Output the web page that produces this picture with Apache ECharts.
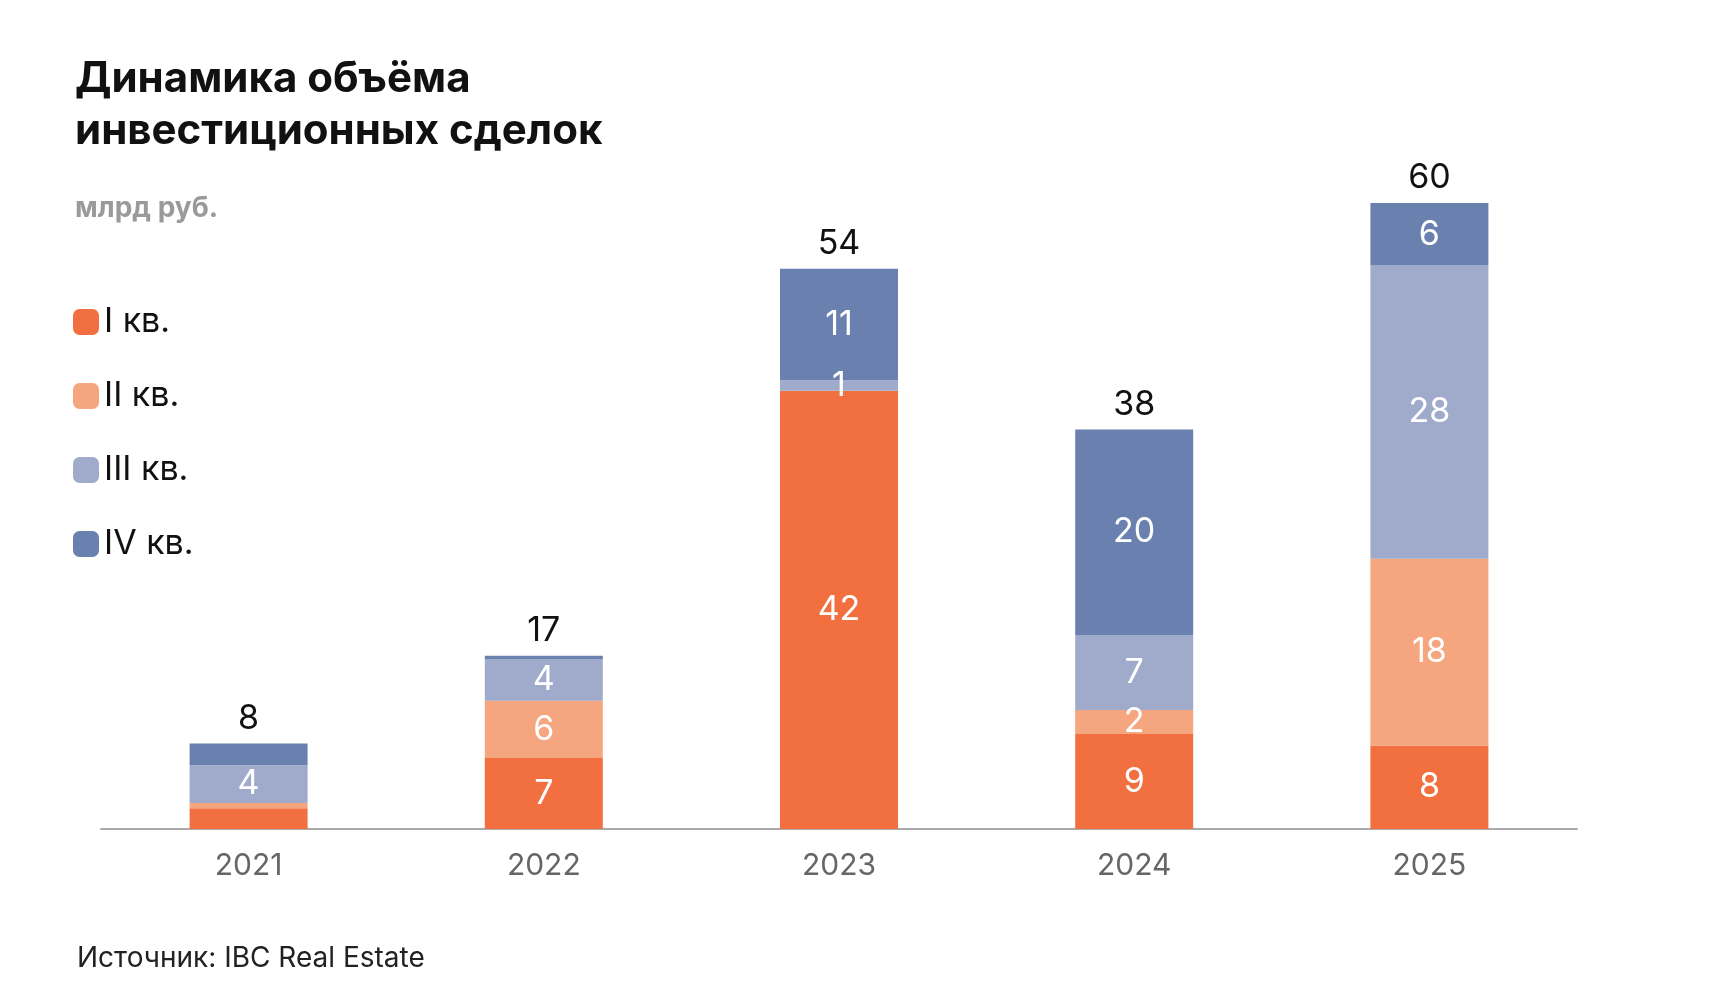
<!DOCTYPE html><html><head><meta charset="utf-8"><script src="https://cdn.jsdelivr.net/npm/echarts@6/dist/echarts.min.js"></script>
<style>html,body{margin:0;background:#fff}#c{width:1720px;height:994px}</style></head><body><div id="c"></div><script>
const years=['2021','2022','2023','2024','2025'];
const q1=[2,6.8,42,9.1,8];
const q2=[0.5,5.5,0,2.3,17.9];
const q3=[3.6,4,1,7.2,28.1];
const q4=[2.1,0.3,10.7,19.7,6];
const totals=[8,17,54,38,60];
const hidden={'I кв.':[0],'II кв.':[0,2],'III кв.':[],'IV кв.':[0,1]};
const names=['I кв.','II кв.','III кв.','IV кв.'];
const colors=['#F2703F','#F6A67E','#A0ABCB','#6A81AF'];
const vals=[q1,q2,q3,q4];
const series=vals.map((v,i)=>({name:names[i],type:'bar',stack:'s',barWidth:118,data:v,itemStyle:{color:colors[i]},
 label:{show:true,color:'#fff',fontSize:34,fontFamily:'Inter',formatter:p=>hidden[names[i]].includes(p.dataIndex)?'':Math.round(p.value)}}));
series.push({type:'bar',stack:'s',data:totals.map(()=>0),itemStyle:{color:'transparent'},label:{show:true,position:'top',distance:8,color:'#111',fontSize:34,fontFamily:'Inter',formatter:p=>totals[p.dataIndex]}});
const ch=echarts.init(document.getElementById('c'));
ch.setOption({animation:false,
 title:[{text:'Динамика объёма\nинвестиционных сделок',left:70,top:48,textStyle:{fontSize:42,fontWeight:'bold',fontFamily:'Inter',color:'#111',lineHeight:52}},
 {text:'млрд руб.',left:70,top:190,textStyle:{fontSize:28,fontWeight:'bold',fontFamily:'Inter',color:'#9a9a9a'}},
 {text:'Источник: IBC Real Estate',left:72,top:940,textStyle:{fontSize:28,fontWeight:'normal',fontFamily:'Inter',color:'#222'}}],
 legend:{orient:'vertical',left:68,top:300,itemWidth:26,itemHeight:26,itemGap:40,data:names,textStyle:{fontSize:34,fontFamily:'Inter',color:'#111'}},
 grid:{left:101,right:143,top:203,bottom:165},
 xAxis:{type:'category',data:years,axisTick:{show:false},axisLine:{lineStyle:{color:'#aaa',width:2}},axisLabel:{fontSize:30,color:'#666',fontFamily:'Inter',margin:22}},
 yAxis:{type:'value',min:0,max:60,show:false,splitLine:{show:false}},
 series});
</script></body></html>
